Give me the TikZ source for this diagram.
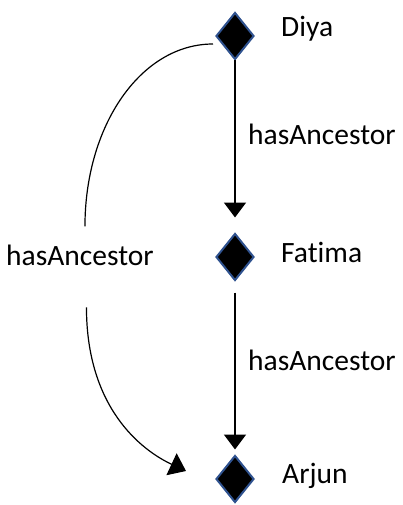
\documentclass[tikz,border=0pt]{standalone}
\usepackage{fontspec}
\setmainfont{Carlito}[Ligatures=NoCommon]
\usetikzlibrary{shapes.geometric,arrows.meta}
\definecolor{dblue}{HTML}{2F528F}
\begin{document}
\begin{tikzpicture}[x=1pt,y=-1pt,
  dia/.style={shape=diamond, draw=dblue, fill=black, line width=2pt, minimum width=38pt, minimum height=47pt, inner sep=0pt},
  lab/.style={anchor=base west, inner sep=0pt, font=\fontsize{29.5}{35}\selectfont},
  vline/.style={line width=2pt, -{Triangle[width=22pt,length=15pt]}},
  cline/.style={line width=1.2pt}]
\useasboundingbox (0,0) rectangle (403,505);
\node[dia] (diya) at (235,36) {};
\node[dia] (fatima) at (235,257) {};
\node[dia] (arjun) at (235,479) {};
\node[lab] (ldiya) at (281,37) {Diya};
\node[lab] (lfatima) at (281,262) {Fatima};
\node[lab] (larjun) at (282,483) {Arjun};
\node[lab] (l1) at (248,145) {hasAncestor};
\node[lab] (l2) at (248,370) {hasAncestor};
\node[lab] (lbl) at (6,265) {hasAncestor};
\draw[vline, shorten >=15pt] (diya) -- (fatima);
\draw[vline, shorten <=11pt, shorten >=5pt] (fatima) -- (arjun);
\draw[cline] ([xshift=-2pt,yshift=-8pt]diya.west) .. controls +(-72,0) and +(0,-101) .. ([xshift=5pt,yshift=18pt]lbl.north);
\draw[cline, -{Triangle[width=24pt,length=16pt]}] ([xshift=6.5pt,yshift=-42pt]lbl.south) .. controls +(0,100) and +(-45,-21) .. ([xshift=-29pt,yshift=8pt]arjun.west);
\end{tikzpicture}
\end{document}
